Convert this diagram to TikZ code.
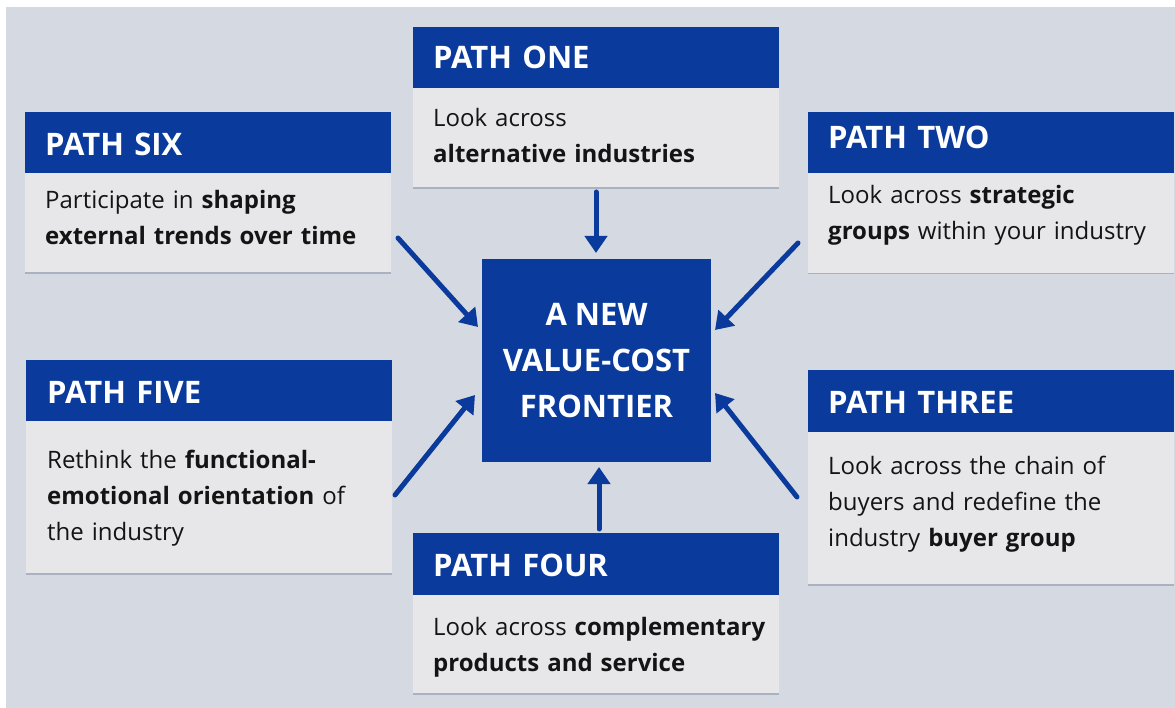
\documentclass[tikz,border=0pt]{standalone}
\usepackage{fontspec}
\setmainfont{Open Sans}
\usetikzlibrary{arrows.meta}
\definecolor{bgc}{RGB}{212,217,226}
\definecolor{pblue}{RGB}{10,58,155}
\definecolor{pgray}{RGB}{231,231,233}
\definecolor{pshadow}{RGB}{170,177,193}
\definecolor{ptext}{RGB}{20,20,20}
\begin{document}
\begin{tikzpicture}[x=1pt,y=-1pt,
  boxbase/.style={draw=none,inner sep=0pt,outer sep=0pt,anchor=north west,minimum width=366pt},
  hdrbox/.style={boxbase,fill=pblue},
  bodybox/.style={boxbase,fill=pgray},
  shadowbox/.style={boxbase,fill=pshadow},
  hdrtxt/.style={anchor=base west,inner sep=0pt,text=white,font=\fontsize{31}{36}\selectfont\bfseries,text width=340pt,align=left},
  bodytxt/.style={anchor=base west,inner sep=0pt,text=ptext,font=\fontsize{24}{36}\selectfont,text width=345pt,align=left},
  ctrbox/.style={fill=pblue,text=white,inner sep=0pt,minimum width=229pt,minimum height=203pt,align=center,font=\fontsize{31}{46}\selectfont\bfseries},
  arr/.style={draw=pblue,line width=5pt,line cap=round,-{Triangle[width=22pt,length=17pt]}}
]
\useasboundingbox (0,0) rectangle (1175,708);
\fill[white] (0,0) rectangle (1175,708);
\fill[bgc] (6,7) rectangle (1175,708);

% PATH ONE
\node[shadowbox,minimum height=100pt] (sh1) at (413,89) {};
\node[hdrbox,minimum height=61pt] (h1) at (413,27) {};
\node[bodybox,minimum height=99pt] (r1) at (413,88) {};
\node[hdrtxt] (h1t) at (433,69) {PATH ONE};
\node[bodytxt] (b1t) at (433,127) {Look across\\\textbf{alternative industries}};

% PATH TWO
\node[shadowbox,minimum height=101pt] (sh2) at (808,173) {};
\node[hdrbox,minimum height=61pt] (h2) at (808,112) {};
\node[bodybox,minimum height=100pt] (r2) at (808,173) {};
\node[hdrtxt] (h2t) at (828,149) {PATH TWO};
\node[bodytxt] (b2t) at (828,204) {Look across \textbf{strategic}\\\textbf{groups} within your industry};

% PATH THREE
\node[shadowbox,minimum height=153pt] (sh3) at (808,433) {};
\node[hdrbox,minimum height=62pt] (h3) at (808,370) {};
\node[bodybox,minimum height=152pt] (r3) at (808,432) {};
\node[hdrtxt] (h3t) at (828,413) {PATH THREE};
\node[bodytxt] (b3t) at (828,474) {Look across the chain of\\buyers and redefine the\\industry \textbf{buyer group}};

% PATH FOUR
\node[shadowbox,minimum height=99pt] (sh4) at (413,596) {};
\node[hdrbox,minimum height=62pt] (h4) at (413,533) {};
\node[bodybox,minimum height=98pt] (r4) at (413,595) {};
\node[hdrtxt] (h4t) at (433,576) {PATH FOUR};
\node[bodytxt] (b4t) at (433,635) {Look across \textbf{complementary}\\\textbf{products and service}};

% PATH FIVE
\node[shadowbox,minimum height=153pt] (sh5) at (26,422) {};
\node[hdrbox,minimum height=61pt] (h5) at (26,360) {};
\node[bodybox,minimum height=152pt] (r5) at (26,421) {};
\node[hdrtxt] (h5t) at (47,403) {PATH FIVE};
\node[bodytxt] (b5t) at (47,468) {Rethink the \textbf{functional-}\\\textbf{emotional orientation} of\\the industry};

% PATH SIX
\node[shadowbox,minimum height=100pt] (sh6) at (25,174) {};
\node[hdrbox,minimum height=61pt] (h6) at (25,112) {};
\node[bodybox,minimum height=99pt] (r6) at (25,173) {};
\node[hdrtxt] (h6t) at (45,156) {PATH SIX};
\node[bodytxt] (b6t) at (45,209) {Participate in \textbf{shaping}\\\textbf{external trends over time}};

% CENTRE
\node[ctrbox] (ctr) at (596.5,360.5) {A NEW\\VALUE-COST\\FRONTIER};

% arrows
\coordinate (s1) at (596,192);
\coordinate (t1) at (596,253);
\coordinate (s2) at (798,243);
\coordinate (t2) at (715,330);
\coordinate (s3) at (797,497);
\coordinate (t3) at (715,393);
\coordinate (s4) at (599,529);
\coordinate (t4) at (599,467);
\coordinate (s5) at (395,495);
\coordinate (t5) at (475,395);
\coordinate (s6) at (398,238);
\coordinate (t6) at (478,327);
\draw[arr] (s1) -- (t1);
\draw[arr] (s2) -- (t2);
\draw[arr] (s3) -- (t3);
\draw[arr] (s4) -- (t4);
\draw[arr] (s5) -- (t5);
\draw[arr] (s6) -- (t6);
\end{tikzpicture}
\end{document}
